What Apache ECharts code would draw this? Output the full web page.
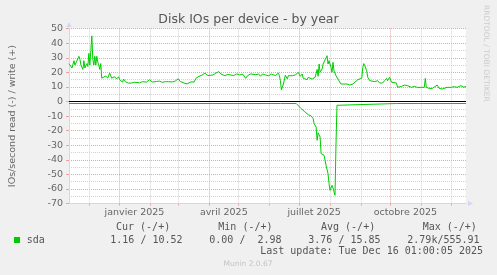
<!DOCTYPE html>
<html><head><meta charset="utf-8">
<script src="https://cdn.jsdelivr.net/npm/echarts@6/dist/echarts.min.js"></script>
<style>html,body{margin:0;padding:0;background:#F0F0F0}#c{width:497px;height:275px}</style>
</head><body><div id="c"></div>
<script>
// ---------- data ----------
const titleText = 'Disk IOs per device - by year';
const yAxisName = 'IOs/second read (-) / write (+)';
const endTime = Date.UTC(2025, 11, 16, 1, 0, 5);
const spanDays = 400;
const monthNames = ['janvier','février','mars','avril','mai','juin','juillet','août','septembre','octobre','novembre','décembre'];
const yMin = -70, yMax = 50, yStep = 10;
// [day offset from start, IOs/s]
const writeIO = [[0,26],[1,27],[3,23],[5,28],[6,25],[8,26],[10,31],[11,29],[12,25],[14,22],[15,28],[16,23],[18,26],[19,24],[20,33],[21,25],[22,35],[23,45],[24,29],[25,25],[26,31],[27,25],[28,31],[29,27],[30,25],[31,22],[32,26],[33,16],[35,16.5],[37,17.5],[39,16],[41,19.5],[43,16],[45,15.5],[46,17],[48,15.5],[50,17],[51,15],[53,14],[54,13.3],[55,15.4],[57,13.5],[58,14.3],[60,12.6],[61,13.6],[63,12.7],[65,14],[66,13.2],[68,13.4],[71,12.8],[74,13.6],[78,13.3],[81,14.9],[84,13.4],[88,13.7],[91,14],[94,13.2],[97,13.6],[100,13.6],[104,13.4],[107,14],[110,15.6],[112,13.8],[116,12.6],[119,12.1],[123,13.5],[126,13.3],[128,16],[131,17.3],[134,18.1],[137,19.4],[140,17.8],[142,18.8],[145,18.2],[148,19.5],[150,20.8],[151,20.5],[153,18.9],[155,20],[157,17.7],[160,18.6],[163,18.2],[166,17.8],[169,18.9],[172,18.2],[175,18.8],[178,15.9],[180,17.8],[183,18.9],[185,19.6],[188,18.4],[190,17.5],[191,18.9],[193,17.3],[195,18.9],[198,18.2],[201,17.7],[204,18.8],[208,17.8],[211,19.5],[212,17.7],[213,14.3],[214,8],[215,7.5],[216,12],[218,18],[220,15.5],[221,17.7],[223,16.6],[225,17.7],[228,18.2],[231,20],[233,17.3],[235,18.9],[236,15.9],[238,15.4],[240,15],[241,16.6],[245,15.4],[248,16.6],[250,22],[251,17.3],[252,25.7],[253,20],[255,22.3],[256,25.7],[258,24.6],[260,31.4],[261,25.7],[262,28],[264,23.4],[265,20],[266,26.9],[267,21],[269,17.7],[271,15.4],[272,14.3],[274,12],[276,12.5],[280,12],[283,11.3],[286,12],[288,13.2],[291,15],[293,15.4],[295,16],[296,23.4],[297,26],[298,24.6],[300,21],[301,16.6],[303,14.3],[305,13.6],[308,13.6],[311,14.3],[313,12.7],[316,12.7],[318,14.3],[320,15.9],[321,14.3],[323,16.6],[325,13.2],[327,13.2],[330,12.7],[331,9.7],[335,10.4],[338,11.3],[341,10.9],[345,9.7],[348,10.4],[351,9.7],[355,9.7],[358,9.7],[359,15.9],[360,9.7],[363,9],[366,9],[368,9],[371,11.3],[373,9],[376,8.6],[378,9.7],[381,9.7],[385,9.7],[388,10.2],[391,9.7],[395,10.9],[398,9.7],[400,10.5]];
const readIO = [[0,-1.37],[60,-1.37],[120,-1.37],[180,-1.37],[213,-1.37],[214,-2.6],[215,-1.37],[229,-1.37],[231,-2.6],[234,-4.9],[237,-6.7],[241,-9],[244,-9.9],[246,-11.7],[247,-15.2],[249,-17.5],[250,-26.6],[251,-21.4],[253,-24.3],[254,-35.7],[256,-34.6],[257,-36.9],[259,-43.8],[261,-49.5],[262,-56.3],[263,-60.9],[265,-57.5],[266,-59.3],[267,-60.2],[268,-64.3],[269,-30],[270,-2.6],[271,-1.37],[330,-1.37],[400,-1.37]];
const legendName = 'sda';
const legendHeaders = ['Cur (-/+)','Min (-/+)','Avg (-/+)','Max (-/+)'];
const legendValues = ['1.16 / 10.52','0.00 /  2.98','3.76 / 15.85','2.79k/555.91'];
const lastUpdate = 'Last update: Tue Dec 16 01:00:05 2025';
const muninText = 'Munin 2.0.67';
const watermark = 'RRDTOOL / TOBI OETIKER';

// ---------- layout / style ----------
const DAY = 86400000;
const startTime = endTime - spanDays * DAY;
const GREEN = '#00CC00', RED = '#EBA3A3', GREY = '#D2D2D2', AXIS = '#CFD6F8', FONT = '#666666';
const headerX = [116, 218.3, 321, 422.7];
const valueX = [110.3, 209.3, 308.3, 407.3];

const monthStarts = [];
for (let y = 2024; y <= 2025; y++) for (let m = 0; m < 12; m++) {
  const t = Date.UTC(y, m, 1);
  if (t > startTime && t < endTime) monthStarts.push(t);
}
const labelVals = monthStarts.filter(t => new Date(t).getUTCMonth() % 3 === 0).map(t => t + 15 * DAY);
const toPts = arr => arr.map(p => [startTime + p[0] * DAY, p[1]]);

const chart = echarts.init(document.getElementById('c'), null, {renderer: 'canvas'});
const mono = 'DejaVu Sans Mono';
const graphics = [
  {type:'text', x:248.5, y:19.5, style:{text:titleText, font:'12.5px "DejaVu Sans"', fill:'#555', textAlign:'center', textVerticalAlign:'middle'}},
  {type:'text', x:486, y:5, rotation:-Math.PI/2, style:{text:watermark, font:'7.5px "DejaVu Sans"', fill:'#CCCCCC', textAlign:'left', textVerticalAlign:'middle'}},
  {type:'rect', shape:{x:14, y:237, width:6, height:6}, style:{fill:GREEN}},
  {type:'text', x:26.7, y:240, style:{text:legendName, font:'10px "'+mono+'"', fill:'#555', textAlign:'left', textVerticalAlign:'middle'}},
  {type:'text', x:483, y:251.7, style:{text:lastUpdate, font:'10px "'+mono+'"', fill:'#555', textAlign:'right', textVerticalAlign:'middle'}},
  {type:'text', x:248, y:264, style:{text:muninText, font:'7.5px "DejaVu Sans"', fill:'#C4C4C4', textAlign:'center', textVerticalAlign:'middle'}}
];
legendHeaders.forEach((h, i) => graphics.push({type:'text', x:headerX[i], y:227.5, style:{text:h, font:'10px "'+mono+'"', fill:'#555', textAlign:'left', textVerticalAlign:'middle'}}));
legendValues.forEach((v, i) => graphics.push({type:'text', x:valueX[i], y:240, style:{text:v, font:'10px "'+mono+'"', fill:'#555', textAlign:'left', textVerticalAlign:'middle'}}));

chart.setOption({
  animation: false,
  backgroundColor: '#F0F0F0',
  grid: {left: 66, right: 31, top: 28.6, bottom: 71.4, show: true, backgroundColor: '#FFFFFF', borderWidth: 0},
  xAxis: {
    type: 'value', min: startTime, max: endTime,
    axisLine: {onZero: false, show: true, lineStyle: {color: AXIS, width: 1}, symbol: ['none','triangle'], symbolSize: [5,5], symbolOffset: [0, 4.5]},
    axisTick: {show: true, customValues: monthStarts, length: 2, lineStyle: {color: RED}},
    axisLabel: {customValues: labelVals, margin: 4, color: FONT, fontSize: 9.5, fontFamily: 'DejaVu Sans',
      formatter: v => { const d = new Date(v); return monthNames[d.getUTCMonth()] + ' ' + d.getUTCFullYear(); }},
    splitLine: {show: false}
  },
  yAxis: {
    type: 'value', min: yMin, max: yMax, interval: yStep,
    name: yAxisName, nameLocation: 'middle', nameGap: 51, nameRotate: 90,
    nameTextStyle: {color: FONT, fontSize: 9.5, fontFamily: 'DejaVu Sans'},
    axisLine: {show: true, lineStyle: {color: AXIS, width: 1}, symbol: ['none','triangle'], symbolSize: [5,5], symbolOffset: [0, 4]},
    axisTick: {show: true, length: 3, lineStyle: {color: RED}},
    axisLabel: {margin: 6, color: FONT, fontSize: 9.5, fontFamily: 'DejaVu Sans'},
    splitLine: {show: true, lineStyle: {color: RED, type: [1,1], width: 1}},
    minorTick: {show: false, splitNumber: 2},
    minorSplitLine: {show: true, lineStyle: {color: GREY, type: [1,1], width: 1}}
  },
  series: [
    {type: 'line', name: 'grid', data: [[startTime, 0]], showSymbol: false, symbol: 'none', silent: true, lineStyle: {width: 0}, z: 1,
      markLine: {silent: true, symbol: 'none', z: 1, label: {show: false},
        data: monthStarts.map(t => ({xAxis: t, lineStyle: {color: new Date(t).getUTCMonth() % 3 === 0 ? RED : GREY, type: [1,1], width: 1}}))}},
    {type: 'line', name: 'write', data: toPts(writeIO), showSymbol: false, symbol: 'none', lineStyle: {color: GREEN, width: 1}, z: 3},
    {type: 'line', name: 'read', data: toPts(readIO), showSymbol: false, symbol: 'none', lineStyle: {color: GREEN, width: 1}, z: 3,
      markLine: {silent: true, symbol: 'none', z: 4, label: {show: false},
        data: [{yAxis: 0, lineStyle: {color: '#000000', type: 'solid', width: 1}}]}}
  ],
  graphic: graphics
});
</script></body></html>
